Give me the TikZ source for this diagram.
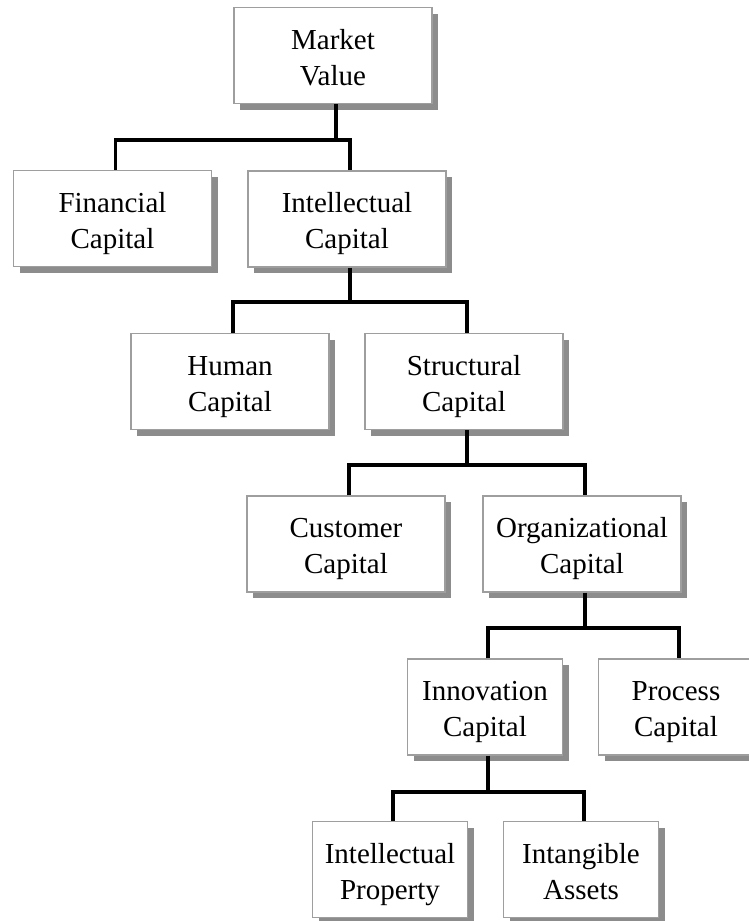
\documentclass[tikz,border=0pt]{standalone}
\usepackage{fontspec}
\setmainfont{Liberation Serif}
\usetikzlibrary{shadows}
% two centred lines; the taller first row sets the text a little below the middle
\newcommand\twolines[2]{\begin{tabular}{@{}c@{}}\rule{0pt}{34pt}#1\\#2\end{tabular}}
\begin{document}
\begin{tikzpicture}[x=1pt,y=-1pt,
  capbox/.style={draw=black!38, line width=1.4pt, fill=white, rectangle,
    minimum height=96pt, inner sep=0pt,
    font=\fontsize{29}{36}\selectfont,
    drop shadow={shadow xshift=6pt, shadow yshift=-6pt, fill=black!45, opacity=1}},
  wide/.style={capbox, minimum width=198pt},
  narrow/.style={capbox, minimum width=155pt},
  conn/.style={draw=black, line width=3.5pt, line join=miter}]
\useasboundingbox (0,0) rectangle (749,921);

% boxes of the hierarchy
\node[wide]   (mv)   at (333,55.5)    {\twolines{Market}{Value}};
\node[wide]   (fin)  at (112.5,218.5) {\twolines{Financial}{Capital}};
\node[wide]   (int)  at (347,219)     {\twolines{Intellectual}{Capital}};
\node[wide]   (hum)  at (230,381.5)   {\twolines{Human}{Capital}};
\node[wide]   (str)  at (464,381.5)   {\twolines{Structural}{Capital}};
\node[wide]   (cus)  at (346,544)     {\twolines{Customer}{Capital}};
\node[wide]   (org)  at (582,544)     {\twolines{Organizational}{Capital}};
\node[narrow] (inn)  at (485,707)     {\twolines{Innovation}{Capital}};
\node[narrow] (pro)  at (676,707)     {\twolines{Process}{Capital}};
\node[narrow] (ip)   at (390,869.5)   {\twolines{Intellectual}{Property}};
\node[narrow] (ia)   at (581,869.5)   {\twolines{Intangible}{Assets}};

% branching points of the connectors
\coordinate (j1) at (336,140);
\coordinate (j2) at (350,302);
\coordinate (j3) at (467,465);
\coordinate (j4) at (585,628);
\coordinate (j5) at (488,792);

% connectors
\draw[conn] ([xshift=3pt]mv.south) -- (j1);
\draw[conn] ([xshift=3pt]fin.north) |- (j1) -| ([xshift=3pt]int.north);
\draw[conn] ([xshift=3pt]int.south) -- (j2);
\draw[conn] ([xshift=3pt]hum.north) |- (j2) -| ([xshift=3pt]str.north);
\draw[conn] ([xshift=3pt]str.south) -- (j3);
\draw[conn] ([xshift=3pt]cus.north) |- (j3) -| ([xshift=3pt]org.north);
\draw[conn] ([xshift=3pt]org.south) -- (j4);
\draw[conn] ([xshift=3pt]inn.north) |- (j4) -| ([xshift=3pt]pro.north);
\draw[conn] ([xshift=3pt]inn.south) -- (j5);
\draw[conn] ([xshift=3pt]ip.north) |- (j5) -| ([xshift=3pt]ia.north);
\end{tikzpicture}
\end{document}
